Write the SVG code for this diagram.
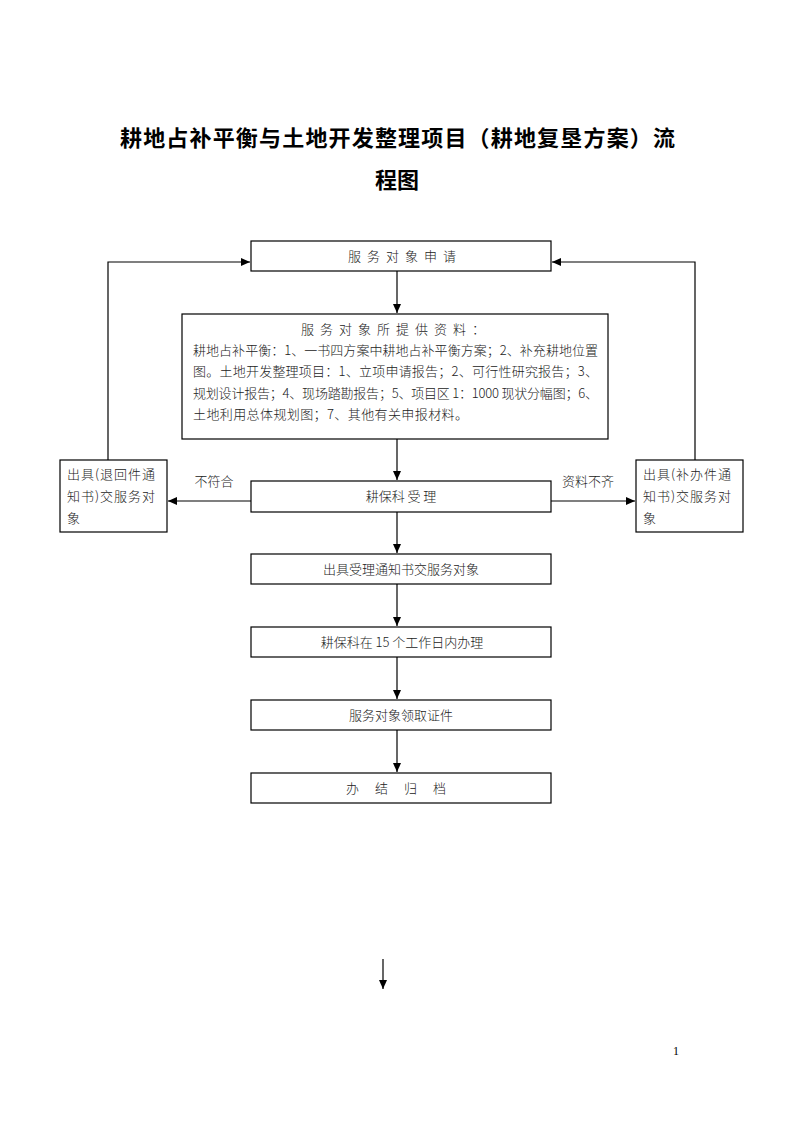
<svg xmlns="http://www.w3.org/2000/svg" width="793" height="1122" viewBox="0 0 793 1122">
<defs>
<marker id="ah" markerWidth="10" markerHeight="10" refX="9" refY="5" orient="auto" markerUnits="userSpaceOnUse">
<path d="M0,1 L9,5 L0,9 Z" fill="#000"/>
</marker>
<style>
.box{fill:#fff;stroke:#000;stroke-width:1.2}
.ln{fill:none;stroke:#000;stroke-width:1.2}
.t{font-family:"Noto Sans CJK SC","Liberation Serif",sans-serif;font-size:13px;fill:#222;font-weight:300}
.c{text-anchor:middle}
.title{font-family:"Noto Sans CJK SC",sans-serif;font-size:22px;font-weight:bold;fill:#000}
</style>
</defs>
<rect width="793" height="1122" fill="#fff"/>
<text class="title" x="120" y="146" textLength="555" lengthAdjust="spacing">耕地占补平衡与土地开发整理项目（耕地复垦方案）流</text>
<text class="title" x="397" y="188" text-anchor="middle">程图</text>
<g id="connectors">
<path class="ln" d="M108,460 V262 H250" marker-end="url(#ah)"/>
<path class="ln" d="M695,460 V262 H552" marker-end="url(#ah)"/>
<path class="ln" d="M397,271 V313" marker-end="url(#ah)"/>
<path class="ln" d="M397,439 V480" marker-end="url(#ah)"/>
<path class="ln" d="M251,501 H168" marker-end="url(#ah)"/>
<path class="ln" d="M551,501 H635" marker-end="url(#ah)"/>
<path class="ln" d="M397,512 V553" marker-end="url(#ah)"/>
<path class="ln" d="M397,584 V626" marker-end="url(#ah)"/>
<path class="ln" d="M397,657 V699" marker-end="url(#ah)"/>
<path class="ln" d="M397,730 V772" marker-end="url(#ah)"/>
<path class="ln" d="M383,959 V989" marker-end="url(#ah)"/>
<text class="t c" x="214" y="486">不符合</text>
<text class="t c" x="588" y="486">资料不齐</text>
</g>
<g id="n1"><rect class="box" x="251" y="241" width="300" height="30"/><text class="t c" x="405" y="261" letter-spacing="6">服务对象申请</text></g>
<g id="n2"><rect class="box" x="182" y="314" width="426" height="125"/>
<text class="t c" x="396" y="334" letter-spacing="6">服务对象所提供资料：</text>
<text class="t" x="193" y="355" textLength="405" lengthAdjust="spacing">耕地占补平衡：1、一书四方案中耕地占补平衡方案；2、补充耕地位置</text>
<text class="t" x="193" y="376" textLength="405" lengthAdjust="spacing">图。土地开发整理项目：1、立项申请报告；2、可行性研究报告；3、</text>
<text class="t" x="193" y="398" textLength="405" lengthAdjust="spacing">规划设计报告；4、现场踏勘报告；5、项目区 1：1000 现状分幅图；6、</text>
<text class="t" x="193" y="419" letter-spacing="0.4">土地利用总体规划图；7、其他有关申报材料。</text>
</g>
<g id="n3"><rect class="box" x="251" y="481" width="300" height="31"/><text class="t c" x="401" y="501">耕保科 受 理</text></g>
<g id="n4"><rect class="box" x="60" y="460" width="107" height="72"/>
<text class="t" x="67" y="479" letter-spacing="1">出具(退回件通</text>
<text class="t" x="67" y="501" letter-spacing="1">知书)交服务对</text>
<text class="t" x="67" y="523">象</text></g>
<g id="n5"><rect class="box" x="636" y="460" width="107" height="72"/>
<text class="t" x="643" y="479" letter-spacing="1">出具(补办件通</text>
<text class="t" x="643" y="501" letter-spacing="1">知书)交服务对</text>
<text class="t" x="643" y="523">象</text></g>
<g id="n6"><rect class="box" x="251" y="554" width="300" height="30"/><text class="t c" x="401" y="574">出具受理通知书交服务对象</text></g>
<g id="n7"><rect class="box" x="251" y="627" width="300" height="30"/><text class="t c" x="402" y="647">耕保科在 15 个工作日内办理</text></g>
<g id="n8"><rect class="box" x="251" y="700" width="300" height="30"/><text class="t c" x="401" y="720">服务对象领取证件</text></g>
<g id="n9"><rect class="box" x="251" y="773" width="300" height="30"/><text class="t c" x="404" y="793" letter-spacing="16">办结归档</text></g>
<text x="673" y="1055" style="font-family:'Liberation Serif',serif;font-size:12px;fill:#000">1</text>
</svg>
